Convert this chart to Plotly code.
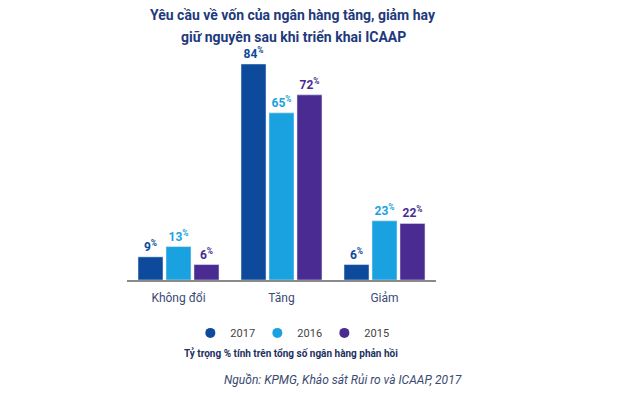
import plotly.graph_objects as go

categories = ["Không đổi", "Tăng", "Giảm"]
years = ["2017", "2016", "2015"]
values_2017 = [9, 84, 6]
values_2016 = [13, 65, 23]
values_2015 = [6, 72, 22]
colors = ["#0d4a9b", "#1aa2e0", "#4a2b92"]

series = [values_2017, values_2016, values_2015]

fig = go.Figure()
for name, vals, col in zip(years, series, colors):
    fig.add_trace(go.Bar(
        x=categories, y=vals, name=name, marker_color=col, showlegend=False,
        text=[f"<b>{v}<sup>%</sup></b>" for v in vals], textposition="outside",
        textfont=dict(color=col, size=12, family="Roboto"),
        cliponaxis=False,
    ))
for name, col in zip(years, colors):
    fig.add_trace(go.Scatter(
        x=[None], y=[None], mode="markers", name=name,
        marker=dict(color=col, size=10, symbol="circle"),
    ))

fig.update_layout(
    width=630, height=393,
    paper_bgcolor="white", plot_bgcolor="white",
    margin=dict(l=127, r=194, t=55, b=113),
    barmode="group", bargap=0.185, bargroupgap=0.107,
    xaxis=dict(
        showline=True, linecolor="#8a8a8a", linewidth=2, ticks="",
        tickfont=dict(family="Roboto", size=12, color="#3b4b78"),
        ticklabelstandoff=6,
        range=[-0.5, 2.5],
    ),
    yaxis=dict(visible=False, range=[0, 87.5]),
    legend=dict(
        orientation="h", x=0.205, y=-0.235, xanchor="left", yanchor="middle",
        font=dict(family="Roboto", size=11, color="#444444"),
        entrywidth=22, entrywidthmode="pixels", traceorder="normal",
    ),
    showlegend=True,
)

fig.add_annotation(
    text="<b>Yêu cầu về vốn của ngân hàng tăng, giảm hay</b>",
    xref="paper", yref="paper", x=0.537, y=1.178, xanchor="center", yanchor="middle",
    showarrow=False, font=dict(family="Roboto", size=14, color="#1e3a7c"),
)
fig.add_annotation(
    text="<b>giữ nguyên sau khi triển khai ICAAP</b>",
    xref="paper", yref="paper", x=0.54, y=1.08, xanchor="center", yanchor="middle",
    showarrow=False, font=dict(family="Roboto", size=14, color="#1e3a7c"),
)
fig.add_annotation(
    text="<b>Tỷ trọng % tính trên tổng số ngân hàng phản hồi</b>",
    xref="paper", yref="paper", x=0.53, y=-0.324, xanchor="center", yanchor="middle",
    showarrow=False, font=dict(family="Roboto", size=10, color="#1e3060"),
)
fig.add_annotation(
    text="<i>Nguồn: KPMG, Khảo sát Rủi ro và ICAAP, 2017</i>",
    xref="paper", yref="paper", x=0.70, y=-0.444, xanchor="center", yanchor="middle",
    showarrow=False, font=dict(family="Roboto", size=12, color="#3a4a70"),
)

fig.write_html("out.html")
